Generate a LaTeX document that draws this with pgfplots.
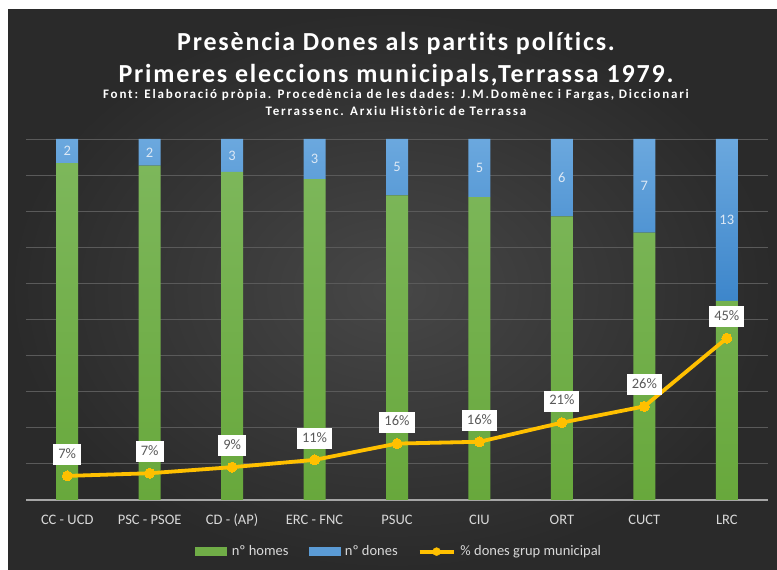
\documentclass[border=0pt]{standalone}
\usepackage{pgfplots}
\pgfplotsset{compat=1.18}
\usepackage{fontspec}
\setmainfont{Carlito}
\newfontfamily\titlefont[LetterSpace=7, Ligatures=NoCommon]{Carlito}
\newfontfamily\subfont[LetterSpace=14, Ligatures=NoCommon]{Carlito}
\definecolor{bgin}{HTML}{474747}
\definecolor{bgout}{HTML}{2A2A2A}
\definecolor{gridc}{HTML}{5A5A5A}
\definecolor{basec}{HTML}{A6A6A6}
\definecolor{tickc}{HTML}{D9D9D9}
\definecolor{greentop}{HTML}{7DB75B}
\definecolor{greenbot}{HTML}{68A83C}
\definecolor{bluetop}{HTML}{6BA8DE}
\definecolor{bluebot}{HTML}{3D86CB}
\definecolor{homesc}{HTML}{70AD47}
\definecolor{donesc}{HTML}{5B9BD5}
\definecolor{gold}{HTML}{FFC000}
\definecolor{labgray}{HTML}{595959}
\definecolor{donelab}{HTML}{DCE8F5}
\begin{document}
\begin{tikzpicture}[x=1bp,y=1bp]
\fill[white] (0,0) rectangle (777,570);
\shade[inner color=bgin, outer color=bgout] (8,0) rectangle (777,560);
\node[anchor=base, text=white] at (396,519) {\titlefont\bfseries\fontsize{26bp}{30bp}\selectfont Presència Dones als partits polítics.};
\node[anchor=base, text=white] at (396,487) {\titlefont\bfseries\fontsize{26bp}{30bp}\selectfont Primeres eleccions municipals,Terrassa 1979.};
\node[anchor=base, text=white] at (396,471) {\subfont\bfseries\fontsize{13bp}{15bp}\selectfont Font: Elaboració pròpia. Procedència de les dades: J.M.Domènec i Fargas, Diccionari};
\node[anchor=base, text=white] at (396,454) {\subfont\bfseries\fontsize{13bp}{15bp}\selectfont Terrassenc. Arxiu Històric de Terrassa};

\begin{axis}[
  at={(26bp,70bp)}, anchor=south west, scale only axis,
  width=742bp, height=361bp,
  xmin=-0.5, xmax=8.5, ymin=0, ymax=100,
  ybar stacked, bar width=22bp,
  axis lines*=left, axis line style={-},
  y axis line style={draw=none},
  x axis line style={draw=basec, line width=1.2bp},
  ytick={0,10,...,100}, yticklabels={},
  ymajorgrids, grid style={draw=gridc, line width=0.9bp},
  major tick length=0,
  xtick={0,...,8},
  xticklabels={CC - UCD, PSC - PSOE, CD - (AP), ERC - FNC, PSUC, CIU, ORT, CUCT, LRC},
  xticklabel style={text=tickc, font=\fontsize{14.5bp}{17bp}\selectfont, text height=10bp, text depth=3bp, yshift=-11bp},
]
\addplot[draw=none, top color=greentop, bottom color=greenbot] coordinates {
(0,93.33) (1,92.59) (2,90.91) (3,88.89) (4,84.38) (5,83.87) (6,78.57) (7,74.07) (8,55.17)};
\addplot[draw=none, top color=bluetop, bottom color=bluebot] coordinates {
(0,6.67) (1,7.41) (2,9.09) (3,11.11) (4,15.63) (5,16.13) (6,21.43) (7,25.93) (8,44.83)};
\end{axis}

\begin{axis}[
  at={(26bp,70bp)}, anchor=south west, scale only axis,
  width=742bp, height=361bp,
  xmin=-0.5, xmax=8.5, ymin=0, ymax=100,
  hide axis, clip=false,
  legend style={at={(0.503,-0.143)}, anchor=center, draw=none, fill=none,
    text=tickc, font=\fontsize{14.5bp}{17bp}\selectfont, legend columns=3,
    /tikz/every even column/.append style={column sep=18bp},
    /tikz/every odd column/.append style={column sep=3bp}},
]
\addplot[only marks, mark=none, forget plot, nodes near coords, point meta=explicit symbolic,
  every node near coord/.append style={anchor=center, text=donelab, font=\fontsize{14.5bp}{17bp}\selectfont}]
  coordinates {(0,96.67)[2] (1,96.30)[2] (2,95.45)[3] (3,94.44)[3] (4,92.19)[5] (5,91.94)[5] (6,89.29)[6] (7,87.04)[7] (8,77.59)[13]};
\addplot[gold, line width=3.8bp, mark=*, mark size=5bp, mark options={fill=gold, draw=gold, line width=0pt}, forget plot,
  nodes near coords, point meta=explicit symbolic,
  every node near coord/.append style={anchor=south, yshift=11bp, fill=white, text=labgray, inner xsep=5bp, inner ysep=0pt, minimum height=21bp, text height=10.5bp, text depth=3bp, font=\fontsize{14.5bp}{17bp}\selectfont}]
  coordinates {(0,6.67)[7\%] (1,7.41)[7\%] (2,9.09)[9\%] (3,11.11)[11\%] (4,15.63)[16\%] (5,16.13)[16\%] (6,21.43)[21\%] (7,25.93)[26\%] (8,44.83)[45\%]};
\addlegendimage{legend image code/.code={\fill[homesc] (0bp,-4bp) rectangle (31bp,4bp);}}
\addlegendentry{nº homes}
\addlegendimage{legend image code/.code={\fill[donesc] (0bp,-4bp) rectangle (31bp,4bp);}}
\addlegendentry{nº dones}
\addlegendimage{legend image code/.code={\draw[gold, line width=3.8bp] (0bp,0bp) -- (34bp,0bp); \fill[gold] (17bp,0bp) circle (4bp);}}
\addlegendentry{\% dones grup municipal}
\end{axis}
\end{tikzpicture}
\end{document}
